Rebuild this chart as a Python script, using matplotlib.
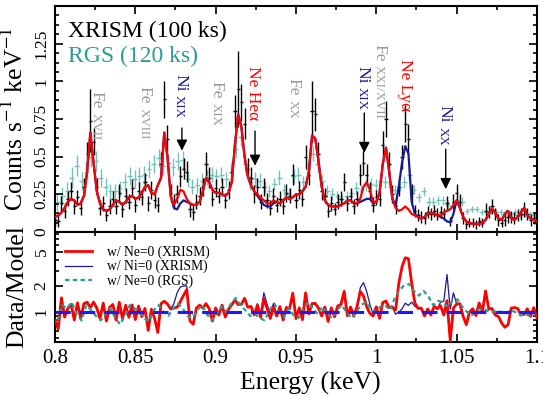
import numpy as np
import matplotlib
matplotlib.use("Agg")
import matplotlib.pyplot as plt
from matplotlib.ticker import MultipleLocator, FixedLocator, FixedFormatter, NullFormatter, LogLocator
from matplotlib.transforms import offset_copy

plt.rcParams['font.family'] = ['Liberation Serif', 'DejaVu Serif']
plt.rcParams['mathtext.fontset'] = 'stix'

# XRISM bins, 2 eV wide
xrism_e = np.round(np.arange(0.800, 1.1001, 0.002), 3)
xrism_rate = [
    0.08, 0.07, 0.19, 0.14, 0.22, 0.27, 0.17, 0.23, 0.16, 0.30,
    0.52, 0.74, 0.60, 0.30, 0.16, 0.19, 0.11, 0.17, 0.22, 0.17,
    0.26, 0.15, 0.24, 0.20, 0.29, 0.18, 0.27, 0.23, 0.33, 0.19,
    0.28, 0.21, 0.18, 0.45, 0.88, 0.62, 0.26, 0.20, 0.25, 0.37,
    0.42, 0.40, 0.15, 0.13, 0.20, 0.24, 0.30, 0.45, 0.36, 0.22,
    0.29, 0.24, 0.30, 0.21, 0.28, 0.40, 0.80, 0.95, 0.86, 0.72,
    0.42, 0.36, 0.25, 0.30, 0.20, 0.30, 0.21, 0.16, 0.24, 0.18,
    0.22, 0.17, 0.26, 0.24, 0.38, 0.21, 0.28, 0.22, 0.50, 0.38,
    0.80, 0.78, 0.52, 0.27, 0.24, 0.14, 0.19, 0.15, 0.20, 0.22,
    0.33, 0.19, 0.24, 0.17, 0.22, 0.38, 0.46, 0.38, 0.27, 0.18,
    0.23, 0.22, 0.58, 0.75, 0.45, 0.25, 0.17, 0.30, 0.50, 0.72,
    0.62, 0.26, 0.14, 0.11, 0.10, 0.09, 0.13, 0.12, 0.14, 0.12,
    0.13, 0.12, 0.19, 0.07, 0.20, 0.26, 0.20, 0.09, 0.05, 0.06,
    0.06, 0.05, 0.07, 0.06, 0.14, 0.13, 0.17, 0.12, 0.08, 0.06,
    0.08, 0.10, 0.10, 0.09, 0.11, 0.12, 0.15, 0.12, 0.08, 0.09, 0.06,
]
xrism_err = [
    0.04, 0.04, 0.05, 0.05, 0.05, 0.06, 0.05, 0.05, 0.05, 0.06,
    0.08, 0.21, 0.09, 0.06, 0.05, 0.05, 0.04, 0.05, 0.05, 0.05,
    0.06, 0.05, 0.05, 0.05, 0.06, 0.05, 0.06, 0.05, 0.06, 0.05,
    0.06, 0.05, 0.05, 0.08, 0.12, 0.09, 0.06, 0.05, 0.06, 0.07,
    0.07, 0.07, 0.05, 0.05, 0.05, 0.06, 0.06, 0.08, 0.07, 0.05,
    0.06, 0.05, 0.06, 0.05, 0.06, 0.07, 0.11, 0.25, 0.12, 0.10,
    0.07, 0.07, 0.06, 0.06, 0.05, 0.06, 0.05, 0.05, 0.05, 0.05,
    0.05, 0.05, 0.06, 0.05, 0.07, 0.05, 0.06, 0.05, 0.08, 0.07,
    0.20, 0.11, 0.08, 0.06, 0.05, 0.04, 0.05, 0.04, 0.05, 0.05,
    0.06, 0.05, 0.05, 0.05, 0.05, 0.07, 0.08, 0.07, 0.06, 0.05,
    0.05, 0.05, 0.09, 0.12, 0.08, 0.06, 0.05, 0.06, 0.08, 0.12,
    0.10, 0.06, 0.04, 0.04, 0.04, 0.04, 0.04, 0.04, 0.04, 0.04,
    0.04, 0.04, 0.05, 0.03, 0.05, 0.06, 0.05, 0.04, 0.03, 0.03,
    0.03, 0.03, 0.03, 0.03, 0.05, 0.04, 0.05, 0.04, 0.04, 0.03,
    0.04, 0.04, 0.04, 0.04, 0.04, 0.04, 0.05, 0.04, 0.04, 0.04, 0.03,
]
# model with Ne=0 (red)
model_ne0 = [
    0.10, 0.11, 0.13, 0.16, 0.20, 0.22, 0.21, 0.18, 0.19, 0.24,
    0.40, 0.66, 0.46, 0.27, 0.19, 0.15, 0.14, 0.15, 0.18, 0.21,
    0.20, 0.18, 0.20, 0.23, 0.24, 0.22, 0.23, 0.26, 0.30, 0.31,
    0.26, 0.25, 0.31, 0.36, 0.66, 0.50, 0.24, 0.18, 0.22, 0.28,
    0.27, 0.22, 0.19, 0.18, 0.18, 0.20, 0.27, 0.36, 0.33, 0.28,
    0.26, 0.26, 0.25, 0.24, 0.26, 0.33, 0.58, 0.78, 0.70, 0.50,
    0.37, 0.31, 0.27, 0.25, 0.23, 0.21, 0.19, 0.19, 0.21, 0.20,
    0.19, 0.21, 0.23, 0.22, 0.23, 0.25, 0.25, 0.27, 0.30, 0.40,
    0.64, 0.62, 0.47, 0.30, 0.21, 0.18, 0.17, 0.17, 0.17, 0.18,
    0.19, 0.21, 0.21, 0.19, 0.19, 0.22, 0.30, 0.33, 0.28, 0.20,
    0.20, 0.26, 0.45, 0.56, 0.40, 0.22, 0.16, 0.14, 0.15, 0.17,
    0.15, 0.12, 0.11, 0.10, 0.09, 0.10, 0.12, 0.13, 0.12, 0.11,
    0.11, 0.13, 0.14, 0.15, 0.18, 0.21, 0.16, 0.10, 0.07, 0.06,
    0.055, 0.055, 0.055, 0.06, 0.08, 0.12, 0.155, 0.13, 0.09, 0.08,
    0.12, 0.14, 0.09, 0.08, 0.10, 0.13, 0.16, 0.11, 0.09, 0.08, 0.07,
]
# model with Ni=0 (blue): same as red except these bins
ni0_e = [0.874, 0.876, 0.878, 0.880, 0.882,
         0.926, 0.928, 0.930, 0.932, 0.934, 0.936,
         0.990, 0.992, 0.994, 0.996, 0.998,
         1.012, 1.014, 1.016, 1.018, 1.020, 1.022, 1.024,
         1.040, 1.042, 1.044, 1.046, 1.048]
ni0_val = [0.16, 0.15, 0.19, 0.21, 0.20,
           0.24, 0.21, 0.18, 0.17, 0.17, 0.19,
           0.20, 0.21, 0.22, 0.22, 0.19,
           0.18, 0.30, 0.46, 0.57, 0.52, 0.20, 0.12,
           0.10, 0.09, 0.07, 0.065, 0.12]

# RGS bins, 3 eV wide
rgs_e = np.round(np.arange(0.8015, 1.0990, 0.003), 4)
rgs_rate = [
    0.20, 0.24, 0.27, 0.36, 0.44, 0.34, 0.40, 0.50, 0.47, 0.36,
    0.30, 0.27, 0.27, 0.29, 0.33, 0.37, 0.35, 0.37, 0.38, 0.42,
    0.45, 0.49, 0.44, 0.46, 0.43, 0.47, 0.48, 0.35, 0.30, 0.31,
    0.34, 0.36, 0.38, 0.37, 0.38, 0.35, 0.40, 0.55, 0.63, 0.45,
    0.33, 0.35, 0.34, 0.30, 0.27, 0.32, 0.36, 0.28, 0.25, 0.37,
    0.38, 0.33, 0.42, 0.52, 0.45, 0.34, 0.27, 0.25, 0.24, 0.22,
    0.24, 0.26, 0.29, 0.28, 0.31, 0.32, 0.31, 0.34, 0.33, 0.30,
    0.28, 0.30, 0.33, 0.38, 0.28, 0.23, 0.27, 0.20, 0.20, 0.21,
    0.21, 0.18, 0.17, 0.21, 0.20, 0.14, 0.15, 0.15, 0.13, 0.14,
    0.14, 0.13, 0.13, 0.13, 0.12, 0.13, 0.11, 0.12, 0.12, 0.11,
]
rgs_err = [
    0.06, 0.06, 0.06, 0.07, 0.07, 0.06, 0.07, 0.07, 0.07, 0.06,
    0.06, 0.05, 0.05, 0.05, 0.06, 0.06, 0.06, 0.06, 0.06, 0.06,
    0.06, 0.06, 0.06, 0.06, 0.06, 0.06, 0.06, 0.05, 0.05, 0.05,
    0.05, 0.05, 0.05, 0.05, 0.05, 0.05, 0.05, 0.06, 0.06, 0.05,
    0.05, 0.05, 0.05, 0.04, 0.04, 0.04, 0.05, 0.04, 0.04, 0.05,
    0.05, 0.04, 0.05, 0.05, 0.05, 0.04, 0.04, 0.04, 0.03, 0.03,
    0.03, 0.03, 0.04, 0.03, 0.04, 0.04, 0.04, 0.04, 0.04, 0.03,
    0.03, 0.03, 0.04, 0.04, 0.03, 0.03, 0.03, 0.03, 0.03, 0.03,
    0.03, 0.03, 0.03, 0.03, 0.03, 0.02, 0.02, 0.02, 0.02, 0.02,
    0.02, 0.02, 0.02, 0.02, 0.02, 0.02, 0.02, 0.02, 0.02, 0.02,
]
rgs_ratio = [
    0.80, 1.20, 1.10, 1.30, 0.95, 0.80, 1.20, 1.05, 0.90, 0.80,
    0.95, 1.10, 0.85, 0.72, 0.90, 1.20, 1.10, 1.00, 0.85, 0.78,
    1.05, 1.20, 1.00, 0.90, 1.10, 1.25, 1.10, 0.90, 0.85, 1.05,
    1.20, 0.95, 0.80, 0.95, 1.15, 1.00, 1.25, 1.45, 1.20, 1.05,
    0.90, 0.95, 0.85, 0.80, 1.05, 1.25, 1.00, 0.88, 1.10, 0.92,
    0.85, 1.10, 1.30, 1.10, 0.95, 1.15, 0.95, 0.85, 1.05, 1.20,
    1.00, 0.85, 1.00, 1.20, 1.30, 1.10, 1.00, 1.15, 1.20, 1.05,
    1.45, 1.80, 2.05, 2.10, 1.75, 1.55, 1.75, 1.50, 1.20, 1.35,
    1.30, 1.15, 1.35, 1.40, 1.15, 1.00, 0.92, 1.05, 1.10, 1.05,
    0.98, 1.05, 1.00, 0.95, 1.05, 1.00, 0.92, 0.95, 0.90, 0.92,
]

xrism_rate = np.array(xrism_rate)
model_ne0 = np.array(model_ne0)
model_ni0 = model_ne0.copy()
for e, v in zip(ni0_e, ni0_val):
    model_ni0[np.argmin(np.abs(xrism_e - e))] = v

ratio_ne0 = xrism_rate / model_ne0
ratio_ni0 = xrism_rate / model_ni0

red = '#ff0000'
navy = '#1a1a96'
gray = '#9a9a9a'
teal = '#2a9d96'
teal_light = '#76c0ba'

fig = plt.figure(figsize=(5.43, 4.01), dpi=100)
ax = fig.add_axes([0.1013, 0.4214, 0.8876, 0.5636])
axr = fig.add_axes([0.1013, 0.147, 0.8876, 0.2744], sharex=ax)

ax.errorbar(rgs_e, rgs_rate, yerr=rgs_err, xerr=0.0015, fmt='none',
            ecolor=teal_light, elinewidth=1.0, zorder=1)
ax.errorbar(xrism_e, xrism_rate, yerr=xrism_err, xerr=0.001, fmt='none',
            ecolor='black', elinewidth=1.0, zorder=2)
ax.plot(xrism_e, model_ni0, color=navy, lw=1.6, zorder=3)
ax.plot(xrism_e, model_ne0, color=red, lw=1.6, zorder=4)

ax.set_xlim(0.8, 1.1)
ax.set_ylim(0, 1.5)

ax.text(0.027, 0.863, 'XRISM (100 ks)', transform=ax.transAxes, fontsize=17, color='black')
ax.text(0.027, 0.752, 'RGS (120 ks)', transform=ax.transAxes, fontsize=17, color=teal)

# line identifications: (x, top y, name, ion, colour)
line_ids = [
    (0.827, 0.934, 'Fe', 'XVII', gray),
    (0.857, 0.967, 'Fe', 'XVIII', gray),
    (0.879, 1.05, 'Ni', 'XIX', navy),
    (0.9018, 1.0, 'Fe', 'XIX', gray),
    (0.9245, 1.10, 'Ne Heα', '', red),
    (0.9496, 1.02, 'Fe', 'XX', gray),
    (0.9925, 1.105, 'Ni', 'XIX', navy),
    (1.0032, 1.25, 'Fe', 'XXI/XVII', gray),
    (1.0188, 1.15, 'Ne Lyα', '', red),
    (1.0432, 0.84, 'Ni', 'XX', navy),
]
arrows = [(0.879, 0.69, 0.54), (0.9245, 0.67, 0.44), (0.9925, 0.79, 0.525), (1.0432, 0.55, 0.285)]

renderer = fig.canvas.get_renderer()
for x, y, name, ion, col in line_ids:
    size = 12.5
    shift = 0.0
    for txt, fs in [(name, size), (ion, size * 0.75)]:
        if not txt:
            continue
        tr = offset_copy(ax.transData, fig=fig, x=-0.33 * size, y=-shift, units='points')
        t = ax.text(x, y, txt, rotation=-90, rotation_mode='anchor', ha='left',
                    va='baseline', fontsize=fs, color=col, transform=tr, zorder=6)
        bb = t.get_window_extent(renderer=renderer)
        shift += bb.height * 72.0 / fig.dpi + 3.0

for x, y0, y1 in arrows:
    ax.annotate('', xy=(x, y1), xytext=(x, y0),
                arrowprops=dict(arrowstyle='-|>', color='black', lw=1.0,
                                mutation_scale=16, shrinkA=0, shrinkB=0), zorder=6)

# ratio panel
axr.plot(xrism_e, ratio_ni0, color=navy, lw=0.9, zorder=2, label='w/ Ni=0 (XRISM)')
axr.plot(xrism_e, ratio_ne0, color=red, lw=2.0, zorder=3, label='w/ Ne=0 (XRISM)')
axr.plot(rgs_e, rgs_ratio, color=teal, lw=1.6, ls=(0, (2, 1.5)), zorder=4, label='w/ Ne=0 (RGS)')
axr.axhline(1.0, color='#1a1aff', lw=2.2, ls=(0, (5, 3)), zorder=5)
axr.set_yscale('log')
axr.set_ylim(0.45, 8.4)
axr.yaxis.set_major_locator(FixedLocator([1, 2, 5]))
axr.yaxis.set_major_formatter(FixedFormatter(['1', '2', '5']))
axr.yaxis.set_minor_locator(LogLocator(base=10, subs=[0.2, 0.3, 0.4, 0.5, 0.6, 0.7, 0.8, 0.9]))
axr.yaxis.set_minor_formatter(NullFormatter())

h, l = axr.get_legend_handles_labels()
order = [1, 0, 2]
axr.legend([h[i] for i in order], [l[i] for i in order], loc='upper left',
           bbox_to_anchor=(0.0, 0.965), frameon=False, fontsize=9.8,
           handlelength=2.0, handletextpad=1.1, labelspacing=0.08, borderaxespad=0.3)

ax.set_ylabel(r'Counts s$^{-1}$ keV$^{-1}$', fontsize=18.5)
axr.set_ylabel('Data/Model', fontsize=18.5)
ax.yaxis.set_label_coords(-0.056, 0.5)
axr.yaxis.set_label_coords(-0.056, 0.5)
axr.set_xlabel('Energy (keV)', fontsize=18.5)
axr.xaxis.set_label_coords(0.53, -0.27)

ax.set_yticks([0, 0.25, 0.5, 0.75, 1.0, 1.25])
ax.set_yticklabels(['0', '0.25', '0.5', '0.75', '1', '1.25'], rotation=90, va='center')
axr.set_yticklabels(['1', '2', '5'], rotation=90, va='center')
ax.yaxis.set_minor_locator(MultipleLocator(0.0625))
ax.xaxis.set_major_locator(MultipleLocator(0.05))
ax.xaxis.set_minor_locator(MultipleLocator(0.025))
axr.set_xticks([0.8, 0.85, 0.9, 0.95, 1.0, 1.05, 1.1])
axr.set_xticklabels(['0.8', '0.85', '0.9', '0.95', '1', '1.05', '1.1'])
axr.set_xlim(0.8, 1.1)
plt.setp(ax.get_xticklabels(), visible=False)

for a in (ax, axr):
    a.tick_params(which='both', direction='in', top=True, right=True, width=1.2)
    a.tick_params(which='major', length=6)
    a.tick_params(which='minor', length=3)
    a.tick_params(axis='x', labelsize=15, pad=5)
    a.tick_params(axis='y', labelsize=12.5, pad=4)
    for s in a.spines.values():
        s.set_linewidth(1.5)

fig.savefig('out.png', dpi=100)
